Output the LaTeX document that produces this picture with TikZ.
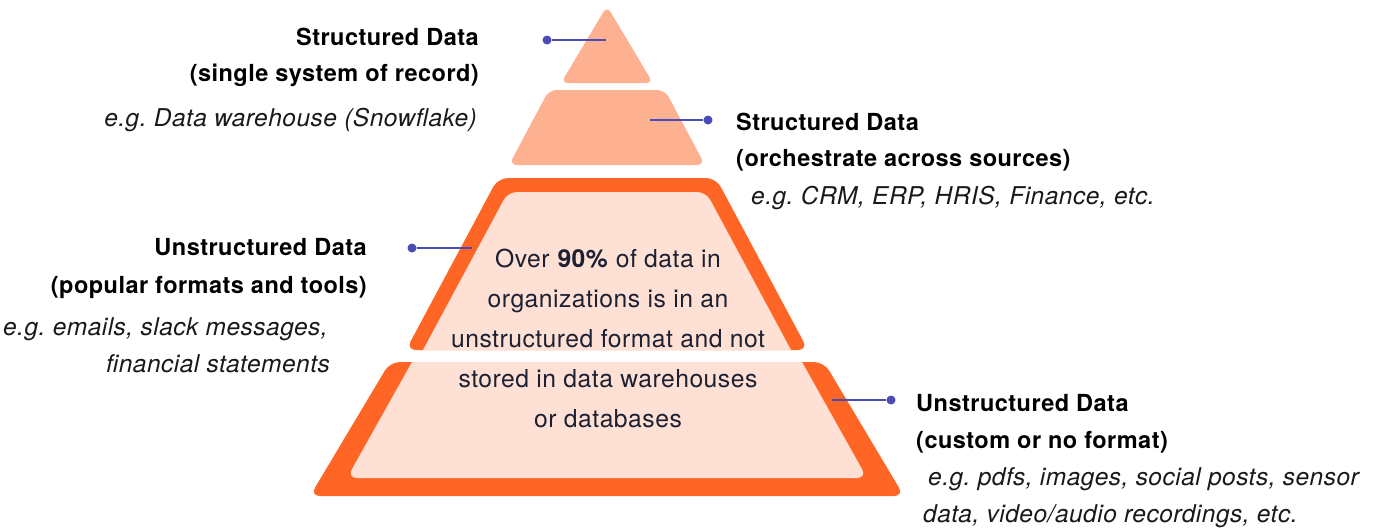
\documentclass[tikz,border=0pt]{standalone}
\usepackage{fontspec}
\setmainfont{TeX Gyre Heros}[LetterSpace=2]
\frenchspacing
\definecolor{peach}{HTML}{FDB191}
\definecolor{flame}{HTML}{FF6626}
\definecolor{blush}{HTML}{FFE0D5}
\definecolor{indigo}{HTML}{4B4BB5}
\definecolor{ink}{HTML}{1C2033}
\tikzset{
    head/.style={font=\fontsize{23.5}{27}\selectfont\bfseries, text=black, inner sep=0},
    eg/.style={font=\fontsize{24.5}{27}\selectfont\itshape, text=black!90, inner sep=0},
    note/.style={font=\fontsize{24.7}{40}\selectfont, text=ink, align=center, inner sep=0},
    dot/.style={circle, fill=indigo, inner sep=0, minimum size=9},
    leader/.style={indigo, line width=2},
}
\begin{document}
\begin{tikzpicture}[x=1pt,y=-1pt]
    \useasboundingbox (0,0) rectangle (1376,528);
    \fill[peach, rounded corners=7] (607,6) -- (653,83) -- (561,83) -- cycle;
    \fill[peach, rounded corners=8] (549,90) -- (665,90) -- (705,165) -- (509,165) -- cycle;
    \fill[flame, rounded corners=10] (498,178) -- (716,178) -- (808,350) -- (406,350) -- cycle;
    \fill[blush] (423,350) [rounded corners=9]-- (508,192) -- (706,192) [sharp corners]-- (791,350) -- cycle;
    \fill[flame, rounded corners=10] (390,362) -- (824,362) -- (904,496) -- (310,496) -- cycle;
    \fill[blush] (412,362) -- (802,362) [rounded corners=10]-- (867,478) -- (347,478) [sharp corners]-- cycle;
    \node[note] (note) at (608,338) {Over \textbf{90\%} of data in\\organizations is in an\\unstructured format and not\\stored in data warehouses\\or databases};
    \foreach \i/\x/\y/\ex in {1/547/40/606, 2/708/120/650, 3/412/248/472, 4/891/400/832}{
        \node[dot] (d\i) at (\x,\y) {};
        \coordinate (e\i) at (\ex,\y);
        \draw[leader] (d\i) -- (e\i);
    }
    \node[head, anchor=base east] (t1a) at (479,45) {Structured Data};
    \node[head, anchor=base east] (t1b) at (479,81) {(single system of record)};
    \node[eg, anchor=base east] (t1c) at (477,126) {e.g. Data warehouse (Snowflake)};
    \node[head, anchor=base west] (t2a) at (736,130) {Structured Data};
    \node[head, anchor=base west] (t2b) at (736,166) {(orchestrate across sources)};
    \node[eg, anchor=base west] (t2c) at (751,204) {e.g. CRM, ERP, HRIS, Finance, etc.};
    \node[head, anchor=base east] (t3a) at (367,255) {Unstructured Data};
    \node[head, anchor=base east] (t3b) at (367,293) {(popular formats and tools)};
    \node[eg, anchor=base east] (t3c) at (328,335) {e.g. emails, slack messages,};
    \node[eg, anchor=base east] (t3d) at (330,372) {financial statements};
    \node[head, anchor=base west] (t4a) at (916,411) {Unstructured Data};
    \node[head, anchor=base west] (t4b) at (916,448) {(custom or no format)};
    \node[eg, anchor=base west] (t4c) at (928,485) {e.g. pdfs, images, social posts, sensor};
    \node[eg, anchor=base west] (t4d) at (923,522) {data, video/audio recordings, etc.};
\end{tikzpicture}
\end{document}
